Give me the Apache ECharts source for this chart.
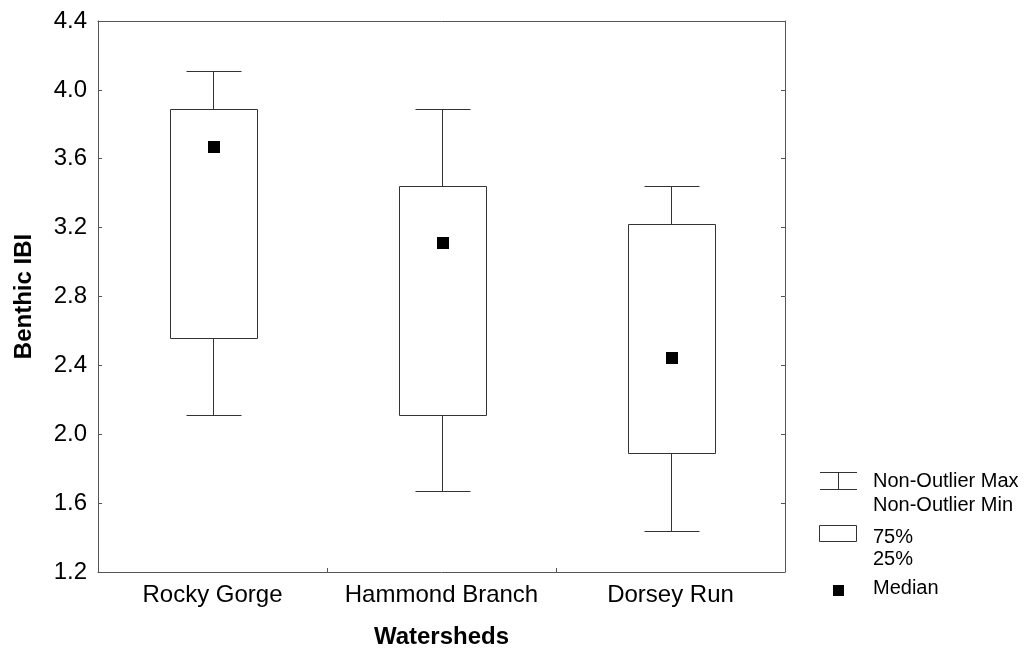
<!DOCTYPE html>
<html>
<head>
<meta charset="utf-8">
<script src="https://cdn.jsdelivr.net/npm/echarts@6/dist/echarts.min.js"></script>
<style>
html,body{margin:0;padding:0;background:#fff;}
#chart{width:1028px;height:648px;}
</style>
</head>
<body>
<div id="chart"></div>
<script>
// ---- data ----
const categories = ['Rocky Gorge', 'Hammond Branch', 'Dorsey Run'];
const whiskerMax = [4.11, 3.89, 3.44];
const q3 = [3.89, 3.44, 3.22];
const median = [3.67, 3.11, 2.44];
const q1 = [2.56, 2.11, 1.89];
const whiskerMin = [2.11, 1.67, 1.44];
const yMin = 1.2, yMax = 4.4, yStep = 0.4;
const legendLabels = ['Non-Outlier Max', 'Non-Outlier Min', '75%', '25%', 'Median'];

const FONT = "'Liberation Sans', Arial, Helvetica, sans-serif";
const LINE = '#333';

const boxData = categories.map((c, i) => [i, whiskerMin[i], q1[i], median[i], q3[i], whiskerMax[i]]);

function px(v) { return Math.round(v) + 0.5; }

function renderBox(params, api) {
  const i = api.value(0);
  const band = api.size([1, 0])[0];
  const pMin = api.coord([i, api.value(1)]);
  const pQ1 = api.coord([i, api.value(2)]);
  const pMed = api.coord([i, api.value(3)]);
  const pQ3 = api.coord([i, api.value(4)]);
  const pMax = api.coord([i, api.value(5)]);
  const cx = px(pMin[0]);
  const bw = band * 0.38 / 2;
  const cw = band * 0.24 / 2;
  const yMx = px(pMax[1]), yQ3 = px(pQ3[1]), yQ1 = px(pQ1[1]), yMn = px(pMin[1]);
  const bx0 = px(cx - bw), bx1 = px(cx + bw);
  const lineStyle = { stroke: LINE, lineWidth: 1, fill: null };
  return {
    type: 'group',
    children: [
      { type: 'line', shape: { x1: cx, y1: yMx, x2: cx, y2: yQ3 }, style: lineStyle },
      { type: 'line', shape: { x1: px(cx - cw), y1: yMx, x2: px(cx + cw), y2: yMx }, style: lineStyle },
      { type: 'line', shape: { x1: cx, y1: yQ1, x2: cx, y2: yMn }, style: lineStyle },
      { type: 'line', shape: { x1: px(cx - cw), y1: yMn, x2: px(cx + cw), y2: yMn }, style: lineStyle },
      { type: 'rect', shape: { x: bx0, y: yQ3, width: bx1 - bx0, height: yQ1 - yQ3 },
        style: { fill: '#fff', stroke: LINE, lineWidth: 1 } },
      { type: 'rect', shape: { x: Math.round(cx) - 6, y: Math.round(pMed[1]) - 6, width: 12, height: 12 },
        style: { fill: '#000' } }
    ]
  };
}

const chart = echarts.init(document.getElementById('chart'), null, { renderer: 'canvas' });

const legendX = 820, textX = 873;
const txt = (t, y) => ({ type: 'text', left: textX, top: y, style: { text: t, font: '20px ' + FONT, fill: '#000' } });

chart.setOption({
  animation: false,
  backgroundColor: '#fff',
  grid: { left: 98, right: 243, top: 21, bottom: 76, containLabel: false, outerBoundsMode: 'none' },
  xAxis: [{
    type: 'category',
    data: categories,
    boundaryGap: true,
    position: 'bottom',
    name: 'Watersheds',
    nameLocation: 'middle',
    nameGap: 53,
    nameTextStyle: { fontFamily: FONT, fontSize: 24, fontWeight: 'bold', color: '#000' },
    axisLine: { show: true, lineStyle: { color: '#555', width: 1 } },
    axisTick: { show: true, inside: true, length: 4, interval: 0, lineStyle: { color: '#555' } },
    axisLabel: { fontFamily: FONT, fontSize: 24, color: '#000', margin: 11, interval: 0, hideOverlap: false },
    splitLine: { show: false }
  }, {
    type: 'category',
    data: categories,
    position: 'top',
    axisLine: { show: true, onZero: false, lineStyle: { color: '#555', width: 1 } },
    axisTick: { show: false },
    axisLabel: { show: false },
    splitLine: { show: false }
  }],
  yAxis: [{
    type: 'value',
    min: yMin, max: yMax, interval: yStep,
    position: 'left',
    name: 'Benthic IBI',
    nameLocation: 'middle',
    nameRotate: 90,
    nameGap: 62,
    nameTextStyle: { fontFamily: FONT, fontSize: 24, fontWeight: 'bold', color: '#000' },
    axisLine: { show: true, onZero: false, lineStyle: { color: '#555', width: 1 } },
    axisTick: { show: true, inside: true, length: 4, lineStyle: { color: '#555' } },
    axisLabel: { fontFamily: FONT, fontSize: 24, color: '#000', margin: 11, formatter: v => v.toFixed(1) },
    splitLine: { show: false }
  }, {
    type: 'value',
    min: yMin, max: yMax, interval: yStep,
    position: 'right',
    axisLine: { show: true, onZero: false, lineStyle: { color: '#555', width: 1 } },
    axisTick: { show: true, inside: true, length: 4, lineStyle: { color: '#555' } },
    axisLabel: { show: false },
    splitLine: { show: false }
  }],
  series: [{
    type: 'custom',
    name: 'Boxes',
    xAxisIndex: 0,
    yAxisIndex: 0,
    renderItem: renderBox,
    encode: { x: 0, y: [1, 2, 3, 4, 5] },
    data: boxData,
    z: 5
  }],
  graphic: [
    { type: 'line', shape: { x1: legendX, y1: 472.5, x2: legendX + 37, y2: 472.5 }, style: { stroke: LINE, lineWidth: 1 } },
    { type: 'line', shape: { x1: legendX + 18.5, y1: 472.5, x2: legendX + 18.5, y2: 489.5 }, style: { stroke: LINE, lineWidth: 1 } },
    { type: 'line', shape: { x1: legendX, y1: 489.5, x2: legendX + 37, y2: 489.5 }, style: { stroke: LINE, lineWidth: 1 } },
    txt(legendLabels[0], 471),
    txt(legendLabels[1], 495),
    { type: 'rect', shape: { x: legendX - 0.5, y: 525.5, width: 37, height: 16 }, style: { fill: '#fff', stroke: LINE, lineWidth: 1 } },
    txt(legendLabels[2], 527),
    txt(legendLabels[3], 549),
    { type: 'rect', shape: { x: 833, y: 585, width: 11, height: 11 }, style: { fill: '#000' } },
    txt(legendLabels[4], 578)
  ]
});
</script>
</body>
</html>
